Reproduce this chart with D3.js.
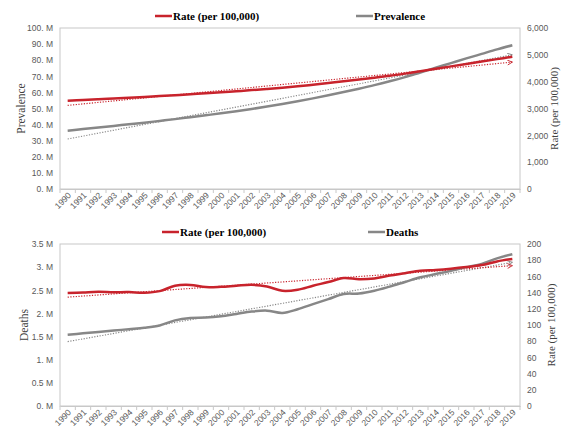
<!DOCTYPE html>
<html>
<head>
<meta charset="utf-8">
<script src="https://cdn.jsdelivr.net/npm/d3@7"></script>
<style>
  body { margin: 0; background: #fff; }
  svg { display: block; font-family: "Liberation Serif", "Times New Roman", serif; }
  .tick text { fill: #595959; }
</style>
</head>
<body>
<svg id="chart" width="565" height="429"></svg>
<script>
// categories
var years = [1990, 1991, 1992, 1993, 1994, 1995, 1996, 1997, 1998, 1999,
  2000, 2001, 2002, 2003, 2004, 2005, 2006, 2007, 2008, 2009,
  2010, 2011, 2012, 2013, 2014, 2015, 2016, 2017, 2018, 2019];

// top panel: prevalence (millions) and rate per 100,000
var prevalence = [36.2, 37.2, 38.2, 39.2, 40.2, 41.2, 42.3, 43.4, 44.6, 45.8,
  47.0, 48.3, 49.7, 51.2, 52.8, 54.5, 56.3, 58.2, 60.2, 62.3,
  64.5, 66.9, 69.5, 72.4, 75.3, 78.2, 81.1, 83.9, 86.7, 89.3];
var prevalenceRate = [3290, 3315, 3342, 3370, 3400, 3430, 3462, 3496, 3530, 3566,
  3604, 3644, 3686, 3730, 3775, 3825, 3885, 3948, 4012, 4080,
  4150, 4222, 4300, 4390, 4480, 4570, 4660, 4750, 4840, 4930];

// bottom panel: deaths (millions) and rate per 100,000
var deaths = [1.54, 1.57, 1.60, 1.63, 1.66, 1.69, 1.74, 1.85, 1.90, 1.91,
  1.94, 1.99, 2.04, 2.06, 2.01, 2.09, 2.20, 2.31, 2.42, 2.43,
  2.49, 2.58, 2.68, 2.78, 2.85, 2.92, 3.00, 3.07, 3.19, 3.28];
var deathsRate = [139.5, 140.2, 141.0, 140.5, 140.6, 139.8, 141.8, 148.5, 149.5, 146.8,
  147.2, 148.5, 149.6, 147.5, 142.2, 143.5, 148.5, 153.0, 158.0, 156.5,
  157.5, 161.0, 164.0, 167.0, 168.0, 169.5, 171.5, 174.0, 178.5, 181.5];

// tick values and labels
var prevTicks = [0, 10, 20, 30, 40, 50, 60, 70, 80, 90, 100];
var prevTickLabels = ["0. M", "10. M", "20. M", "30. M", "40. M", "50. M", "60. M", "70. M", "80. M", "90. M", "100. M"];
var prevRateTicks = [0, 1000, 2000, 3000, 4000, 5000, 6000];
var prevRateTickLabels = ["0", "1,000", "2,000", "3,000", "4,000", "5,000", "6,000"];
var deathTicks = [0, 0.5, 1, 1.5, 2, 2.5, 3, 3.5];
var deathTickLabels = ["0. M", "0.5 M", "1. M", "1.5 M", "2. M", "2.5 M", "3. M", "3.5 M"];
var deathRateTicks = [0, 20, 40, 60, 80, 100, 120, 140, 160, 180, 200];
var deathRateTickLabels = ["0", "20", "40", "60", "80", "100", "120", "140", "160", "180", "200"];

var RED = "#c8232c";
var GRAY = "#878787";

var svg = d3.select("#chart");

var defs = svg.append("defs");
[["arrRed", RED], ["arrGray", GRAY]].forEach(function(m) {
  defs.append("marker")
    .attr("id", m[0])
    .attr("viewBox", "0 0 10 10")
    .attr("refX", 9).attr("refY", 5)
    .attr("markerWidth", 6).attr("markerHeight", 6)
    .attr("markerUnits", "userSpaceOnUse")
    .attr("orient", "auto")
    .append("path")
      .attr("d", "M1,1 L9,5 L1,9")
      .attr("fill", "none")
      .attr("stroke", m[1])
      .attr("stroke-width", 1.5);
});

function linearFit(vals) {
  var n = vals.length, sx = 0, sy = 0, sxy = 0, sxx = 0;
  vals.forEach(function(v, i) { sx += i; sy += v; sxy += i * v; sxx += i * i; });
  var b = (n * sxy - sx * sy) / (n * sxx - sx * sx);
  var a = (sy - b * sx) / n;
  return vals.map(function(v, i) { return a + b * i; });
}

function drawPanel(cfg) {
  var left = 60, right = 520;
  var g = svg.append("g");

  var x = d3.scaleBand().domain(years).range([left, right]);
  var cx = function(d) { return x(d) + x.bandwidth() / 2; };
  var yL = d3.scaleLinear().domain(cfg.leftDomain).range([cfg.bottom, cfg.top]);
  var yR = d3.scaleLinear().domain(cfg.rightDomain).range([cfg.bottom, cfg.top]);

  // plot frame
  g.append("rect")
    .attr("x", left).attr("y", cfg.top)
    .attr("width", right - left).attr("height", cfg.bottom - cfg.top)
    .attr("fill", "none")
    .attr("stroke", "#c8c8c8")
    .attr("stroke-width", 1);

  // left axis
  g.append("g")
    .attr("transform", "translate(" + left + ",0)")
    .call(d3.axisLeft(yL).tickValues(cfg.leftTicks)
      .tickFormat(function(d, i) { return cfg.leftLabels[i]; })
      .tickSize(0).tickPadding(7))
    .call(function(a) { a.select(".domain").remove(); })
    .selectAll("text").attr("font-size", 8.5);

  // right axis
  g.append("g")
    .attr("transform", "translate(" + right + ",0)")
    .call(d3.axisRight(yR).tickValues(cfg.rightTicks)
      .tickFormat(function(d, i) { return cfg.rightLabels[i]; })
      .tickSize(0).tickPadding(7))
    .call(function(a) { a.select(".domain").remove(); })
    .selectAll("text").attr("font-size", 8.5);

  // bottom axis
  var xa = g.append("g")
    .attr("transform", "translate(0," + cfg.bottom + ")")
    .call(d3.axisBottom(x).tickSize(0));
  xa.select(".domain").attr("stroke", "#c8c8c8");
  xa.selectAll("text")
    .attr("font-size", 8.5)
    .attr("text-anchor", "end")
    .attr("x", 0).attr("y", 0).attr("dy", 0)
    .attr("transform", "translate(4,7) rotate(-45)");
  xa.selectAll(".tickmark")
    .data(years.concat(["end"]))
    .enter().append("line")
      .attr("x1", function(d) { return d === "end" ? right : x(d); })
      .attr("x2", function(d) { return d === "end" ? right : x(d); })
      .attr("y1", 0).attr("y2", 4)
      .attr("stroke", "#c8c8c8");

  // axis titles
  g.append("text")
    .attr("transform", "translate(" + cfg.leftTitleX + "," + (cfg.top + cfg.bottom) / 2 + ") rotate(-90)")
    .attr("text-anchor", "middle")
    .attr("font-size", 11.5)
    .attr("fill", "#404040")
    .text(cfg.leftTitle);
  g.append("text")
    .attr("transform", "translate(" + cfg.rightTitleX + "," + (cfg.top + cfg.bottom) / 2 + ") rotate(-90)")
    .attr("text-anchor", "middle")
    .attr("font-size", 11)
    .attr("fill", "#404040")
    .text("Rate (per 100,000)");

  // trend lines
  var trend = d3.line().x(function(d) { return d[0]; }).y(function(d) { return d[1]; });
  var fitL = linearFit(cfg.leftValues);
  var fitR = linearFit(cfg.rightValues);
  g.append("path")
    .attr("d", trend([[cx(years[0]), yL(fitL[0])], [cx(years[years.length - 1]), yL(fitL[fitL.length - 1])]]))
    .attr("fill", "none").attr("stroke", GRAY).attr("stroke-width", 1.2)
    .attr("stroke-dasharray", "1.2,1.5")
    .attr("marker-end", "url(#arrGray)");
  g.append("path")
    .attr("d", trend([[cx(years[0]), yR(fitR[0])], [cx(years[years.length - 1]), yR(fitR[fitR.length - 1])]]))
    .attr("fill", "none").attr("stroke", RED).attr("stroke-width", 1.2)
    .attr("stroke-dasharray", "1.2,1.5")
    .attr("marker-end", "url(#arrRed)");

  // data lines
  var lineL = d3.line()
    .x(function(d, i) { return cx(years[i]); })
    .y(function(d) { return yL(d); })
    .curve(d3.curveCatmullRom.alpha(0.5));
  var lineR = d3.line()
    .x(function(d, i) { return cx(years[i]); })
    .y(function(d) { return yR(d); })
    .curve(d3.curveCatmullRom.alpha(0.5));
  g.append("path").attr("d", lineL(cfg.leftValues))
    .attr("fill", "none").attr("stroke", GRAY).attr("stroke-width", 2.5);
  g.append("path").attr("d", lineR(cfg.rightValues))
    .attr("fill", "none").attr("stroke", RED).attr("stroke-width", 2.5);

  // legend
  var leg = g.append("g").attr("font-size", 11).attr("font-weight", "bold");
  leg.append("line")
    .attr("x1", cfg.legRedX).attr("x2", cfg.legRedX + 17)
    .attr("y1", cfg.legY).attr("y2", cfg.legY)
    .attr("stroke", RED).attr("stroke-width", 2.5);
  leg.append("text").attr("x", cfg.legRedX + 18).attr("y", cfg.legY + 4)
    .text("Rate (per 100,000)");
  leg.append("line")
    .attr("x1", cfg.legGrayX).attr("x2", cfg.legGrayX + 17)
    .attr("y1", cfg.legY).attr("y2", cfg.legY)
    .attr("stroke", GRAY).attr("stroke-width", 2.5);
  leg.append("text").attr("x", cfg.legGrayX + 18).attr("y", cfg.legY + 4)
    .text(cfg.leftTitle);
}

drawPanel({
  top: 28, bottom: 189,
  leftDomain: [0, 100], rightDomain: [0, 6000],
  leftTicks: prevTicks, leftLabels: prevTickLabels,
  rightTicks: prevRateTicks, rightLabels: prevRateTickLabels,
  leftValues: prevalence, rightValues: prevalenceRate,
  leftTitle: "Prevalence", leftTitleX: 25, rightTitleX: 558,
  legY: 16, legRedX: 155, legGrayX: 356
});

drawPanel({
  top: 244, bottom: 406,
  leftDomain: [0, 3.5], rightDomain: [0, 200],
  leftTicks: deathTicks, leftLabels: deathTickLabels,
  rightTicks: deathRateTicks, rightLabels: deathRateTickLabels,
  leftValues: deaths, rightValues: deathsRate,
  leftTitle: "Deaths", leftTitleX: 28, rightTitleX: 555,
  legY: 232, legRedX: 162, legGrayX: 368
});
</script>
</body>
</html>
